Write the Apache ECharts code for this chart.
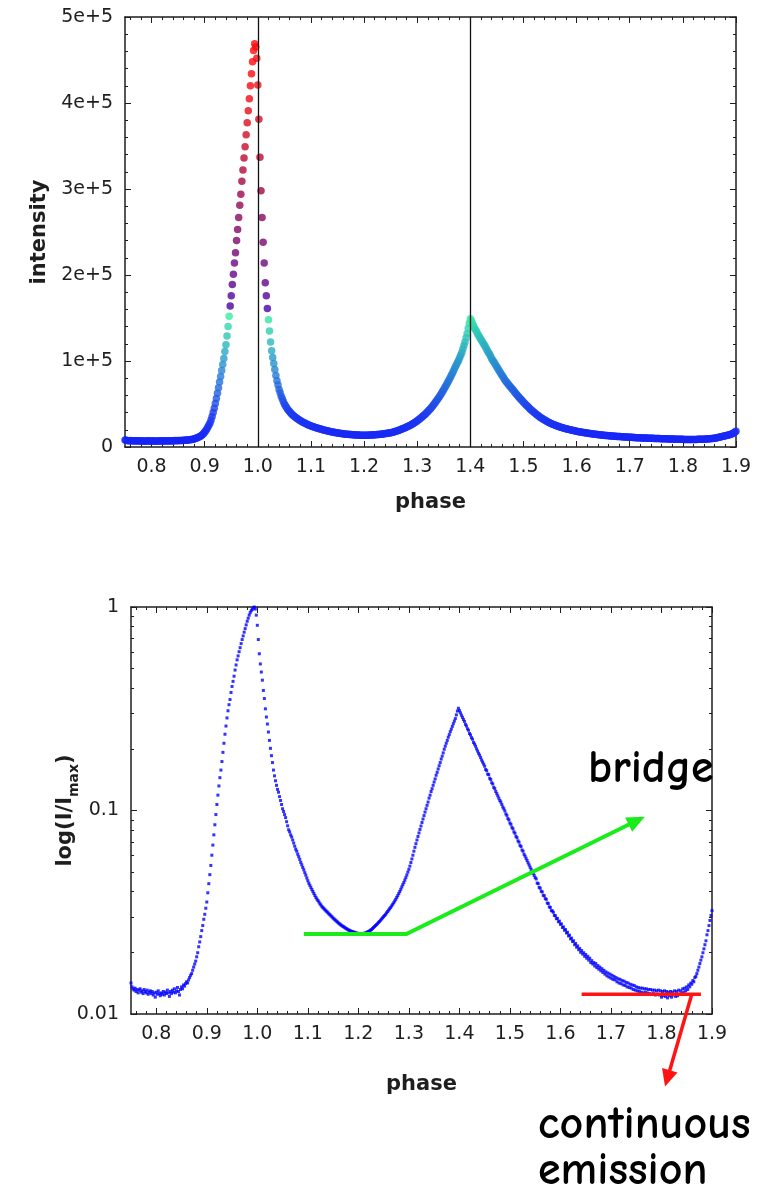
<!DOCTYPE html>
<html>
<head>
<meta charset="utf-8">
<script src="https://cdn.jsdelivr.net/npm/echarts@6/dist/echarts.min.js"></script>
<style>
  html, body { margin: 0; padding: 0; background: #fff; }
  #chart { width: 771px; height: 1191px; }
</style>
</head>
<body>
<div id="chart"></div>
<script>
// Pulse profile binned in phase: first bin at 0.750, bins 0.002 wide, last bin at 1.900.
const PHASE_START = 0.75;
const PHASE_STEP = 0.002;

// Counts per phase bin (linear panel).
const intensity = [
  8200, 7900, 7600, 7400, 7300, 7500, 7200, 7300, 7100, 7400,
  7200, 7000, 7300, 7100, 6900, 7200, 7000, 7100, 6800, 7000,
  7100, 6900, 7000, 7200, 6800, 7000, 6900, 7100, 7000, 6800,
  7000, 7100, 6900, 7000, 7200, 6900, 7100, 7000, 7300, 7100,
  7200, 7000, 7300, 7100, 7400, 7200, 7300, 7500, 7300, 7600,
  7400, 7600, 7500, 7700, 7600, 7800, 7900, 7800, 8100, 8000,
  8200, 8400, 8600, 8800, 9100, 9400, 9800, 10200, 10700, 11200,
  11800, 12500, 13400, 14500, 15800, 17300, 19000, 21000, 23200, 25500,
  28000, 31500, 35500, 40000, 45000, 50500, 56500, 62500, 69000, 75500,
  82000, 89000, 96000, 103000, 111000, 119000, 129000, 140000, 152000, 164000,
  176000, 189000, 201000, 214000, 226000, 240000, 253000, 267000, 281000, 294000,
  309000, 322000, 336000, 349000, 363000, 377000, 391000, 405000, 420000, 434000,
  448000, 461000, 469000, 465000, 452000, 421000, 381000, 337000, 298000, 267000,
  238000, 214000, 191000, 176000, 161000, 148000, 135000, 122000, 112000, 104000,
  97000, 90000, 83000, 77000, 72000, 67000, 63000, 59000, 56000, 53000,
  50000, 48000, 46000, 44000, 42500, 41000, 39500, 38000, 37000, 36000,
  35000, 34000, 33000, 32200, 31400, 30600, 29800, 29100, 28400, 27800,
  27200, 26600, 26000, 25500, 25000, 24500, 24000, 23600, 23200, 22800,
  22400, 22000, 21600, 21200, 20800, 20500, 20200, 19900, 19600, 19300,
  19000, 18700, 18400, 18100, 17800, 17500, 17300, 17000, 16800, 16600,
  16400, 16200, 16000, 15800, 15600, 15400, 15200, 15000, 14900, 14800,
  14700, 14600, 14500, 14400, 14300, 14200, 14100, 14000, 14000, 13900,
  13900, 13800, 13800, 13800, 13700, 13700, 13700, 13800, 13800, 13800,
  13900, 13900, 14000, 14000, 14100, 14200, 14300, 14400, 14500, 14600,
  14800, 14900, 15000, 15200, 15400, 15600, 15800, 16000, 16200, 16400,
  16600, 16900, 17200, 17500, 17900, 18300, 18700, 19100, 19600, 20100,
  20600, 21100, 21600, 22100, 22600, 23200, 23800, 24400, 25000, 25700,
  26400, 27100, 27900, 28700, 29500, 30400, 31300, 32300, 33300, 34300,
  35400, 36500, 37600, 38800, 40000, 41300, 42600, 44000, 45400, 46900,
  48500, 50100, 51700, 53400, 55100, 56900, 58800, 60800, 62800, 64900,
  67000, 69100, 71300, 73500, 75800, 78100, 80500, 83000, 85500, 88200,
  91000, 93500, 96000, 98500, 101000, 104000, 107000, 110000, 114000, 118000,
  122000, 127000, 132000, 138000, 144000, 149000, 147000, 144000, 141000, 138000,
  136000, 134000, 131000, 129000, 127000, 125000, 123000, 121000, 119000, 117000,
  114500, 112000, 110000, 108000, 105500, 103000, 101000, 99000, 97000, 95000,
  93000, 91000, 89000, 87000, 85000, 83000, 81000, 79000, 77000, 75500,
  74000, 72500, 71000, 69500, 68000, 66500, 65000, 63500, 62000, 60500,
  59000, 57600, 56200, 54800, 53400, 52100, 50800, 49500, 48200, 47000,
  45800, 44600, 43400, 42300, 41200, 40100, 39100, 38100, 37100, 36200,
  35300, 34400, 33600, 32800, 32000, 31300, 30600, 29900, 29200, 28600,
  28000, 27400, 26800, 26300, 25800, 25300, 24800, 24300, 23900, 23500,
  23100, 22700, 22300, 21900, 21500, 21200, 20900, 20600, 20300, 20000,
  19700, 19400, 19100, 18800, 18500, 18300, 18000, 17800, 17600, 17400,
  17200, 17000, 16800, 16600, 16400, 16200, 16000, 15800, 15600, 15400,
  15200, 15000, 14900, 14700, 14600, 14400, 14300, 14100, 14000, 13900,
  13700, 13600, 13500, 13400, 13300, 13200, 13000, 12900, 12800, 12700,
  12600, 12500, 12400, 12300, 12200, 12200, 12100, 12000, 11900, 11800,
  11700, 11600, 11600, 11500, 11400, 11300, 11300, 11200, 11100, 11100,
  11000, 10900, 10900, 10800, 10800, 10700, 10600, 10600, 10500, 10500,
  10400, 10400, 10300, 10300, 10200, 10200, 10100, 10100, 10000, 10000,
  9900, 9900, 9800, 9800, 9700, 9700, 9600, 9600, 9500, 9500,
  9500, 9400, 9400, 9300, 9300, 9200, 9200, 9200, 9100, 9100,
  9000, 9000, 9000, 8900, 8900, 8900, 8800, 8800, 8800, 8800,
  8800, 8700, 8700, 8700, 8700, 8800, 8800, 8800, 8800, 8900,
  8900, 8900, 9000, 9000, 9100, 9100, 9200, 9300, 9400, 9500,
  9600, 9700, 9800, 9900, 10100, 10300, 10500, 10700, 11000, 11300,
  11600, 11900, 12200, 12500, 12800, 13100, 13400, 13700, 14000, 14300,
  14700, 15200, 15800, 16500, 17300, 18200
];

// I / I_max per phase bin (logarithmic panel).
const relIntensity = [
  0.0142, 0.0136, 0.0133, 0.0131, 0.0134, 0.0129, 0.0132, 0.0127, 0.0131, 0.0133,
  0.0128, 0.0130, 0.0126, 0.0132, 0.0129, 0.0127, 0.0131, 0.0125, 0.0128, 0.0130,
  0.0126, 0.0129, 0.0124, 0.0127, 0.0121, 0.0128, 0.0125, 0.0130, 0.0126, 0.0123,
  0.0127, 0.0125, 0.0129, 0.0124, 0.0128, 0.0126, 0.0131, 0.0127, 0.0122, 0.0129,
  0.0126, 0.0131, 0.0128, 0.0133, 0.0127, 0.0130, 0.0135, 0.0129, 0.0124, 0.0132,
  0.0136, 0.0133, 0.0139, 0.0137, 0.0141, 0.0144, 0.0142, 0.0147, 0.0151, 0.0155,
  0.0158, 0.0164, 0.0170, 0.0176, 0.0182, 0.0191, 0.0200, 0.0214, 0.0226, 0.0240,
  0.0257, 0.0272, 0.0292, 0.0309, 0.0331, 0.0355, 0.0394, 0.0437, 0.0484, 0.0537,
  0.0603, 0.0676, 0.0759, 0.0851, 0.0955, 0.107, 0.119, 0.132, 0.145, 0.158,
  0.174, 0.193, 0.214, 0.237, 0.260, 0.285, 0.309, 0.331, 0.351, 0.380,
  0.407, 0.431, 0.457, 0.490, 0.519, 0.550, 0.575, 0.603, 0.631, 0.661,
  0.692, 0.721, 0.752, 0.783, 0.817, 0.851, 0.881, 0.912, 0.938, 0.959,
  0.973, 0.990, 1.000, 0.977, 0.912, 0.813, 0.692, 0.589, 0.525, 0.479,
  0.437, 0.389, 0.355, 0.316, 0.288, 0.266, 0.243, 0.221, 0.202, 0.186,
  0.172, 0.158, 0.148, 0.140, 0.133, 0.127, 0.123, 0.117, 0.112, 0.107,
  0.102, 0.0989, 0.0955, 0.0923, 0.0881, 0.0841, 0.0804, 0.0785, 0.0759, 0.0741,
  0.0716, 0.0692, 0.0668, 0.0646, 0.0631, 0.0610, 0.0593, 0.0575, 0.0556, 0.0541,
  0.0525, 0.0511, 0.0495, 0.0481, 0.0466, 0.0452, 0.0439, 0.0429, 0.0419, 0.0409,
  0.0400, 0.0391, 0.0382, 0.0374, 0.0367, 0.0361, 0.0355, 0.0348, 0.0343, 0.0337,
  0.0333, 0.0329, 0.0325, 0.0321, 0.0318, 0.0314, 0.0310, 0.0307, 0.0303, 0.0300,
  0.0296, 0.0293, 0.0290, 0.0287, 0.0284, 0.0281, 0.0278, 0.0276, 0.0273, 0.0271,
  0.0269, 0.0267, 0.0265, 0.0263, 0.0261, 0.0259, 0.0258, 0.0256, 0.0255, 0.0254,
  0.0253, 0.0252, 0.0251, 0.0250, 0.0249, 0.0249, 0.0248, 0.0248, 0.0248, 0.0248,
  0.0249, 0.0249, 0.0250, 0.0251, 0.0253, 0.0254, 0.0256, 0.0258, 0.0260, 0.0263,
  0.0266, 0.0269, 0.0272, 0.0275, 0.0278, 0.0282, 0.0285, 0.0289, 0.0293, 0.0297,
  0.0301, 0.0305, 0.0309, 0.0314, 0.0319, 0.0324, 0.0329, 0.0334, 0.0340, 0.0346,
  0.0352, 0.0359, 0.0366, 0.0374, 0.0382, 0.0391, 0.0400, 0.0410, 0.0421, 0.0432,
  0.0443, 0.0455, 0.0468, 0.0482, 0.0498, 0.0514, 0.0533, 0.0555, 0.0578, 0.0603,
  0.0631, 0.0659, 0.0687, 0.0716, 0.0745, 0.0776, 0.0807, 0.0839, 0.0873, 0.0908,
  0.0944, 0.0982, 0.102, 0.106, 0.110, 0.115, 0.119, 0.124, 0.128, 0.133,
  0.138, 0.143, 0.149, 0.154, 0.160, 0.166, 0.172, 0.179, 0.185, 0.192,
  0.200, 0.207, 0.214, 0.221, 0.229, 0.236, 0.244, 0.251, 0.259, 0.267,
  0.275, 0.283, 0.295, 0.308, 0.318, 0.310, 0.302, 0.294, 0.287, 0.280,
  0.274, 0.265, 0.260, 0.252, 0.248, 0.239, 0.235, 0.228, 0.224, 0.216,
  0.212, 0.207, 0.201, 0.196, 0.191, 0.187, 0.182, 0.177, 0.173, 0.169,
  0.165, 0.159, 0.157, 0.151, 0.150, 0.144, 0.142, 0.137, 0.135, 0.130,
  0.128, 0.124, 0.121, 0.118, 0.115, 0.112, 0.110, 0.107, 0.104, 0.102,
  0.0995, 0.0962, 0.0946, 0.0913, 0.0899, 0.0868, 0.0855, 0.0826, 0.0813, 0.0785,
  0.0773, 0.0746, 0.0735, 0.0709, 0.0699, 0.0674, 0.0665, 0.0640, 0.0631, 0.0609,
  0.0597, 0.0582, 0.0568, 0.0553, 0.0540, 0.0526, 0.0514, 0.0502, 0.0491, 0.0480,
  0.0468, 0.0461, 0.0440, 0.0437, 0.0419, 0.0415, 0.0401, 0.0398, 0.0383, 0.0381,
  0.0369, 0.0366, 0.0351, 0.0349, 0.0336, 0.0334, 0.0322, 0.0321, 0.0316, 0.0305,
  0.0304, 0.0294, 0.0295, 0.0284, 0.0286, 0.0276, 0.0277, 0.0266, 0.0268, 0.0258,
  0.0260, 0.0250, 0.0252, 0.0242, 0.0244, 0.0234, 0.0236, 0.0227, 0.0229, 0.0219,
  0.0222, 0.0213, 0.0216, 0.0207, 0.0210, 0.0201, 0.0205, 0.0197, 0.0200, 0.0192,
  0.0196, 0.0188, 0.0192, 0.0184, 0.0188, 0.0179, 0.0183, 0.0176, 0.0179, 0.0172,
  0.0177, 0.0169, 0.0173, 0.0166, 0.0170, 0.0163, 0.0167, 0.0160, 0.0164, 0.0157,
  0.0161, 0.0154, 0.0159, 0.0152, 0.0157, 0.0150, 0.0155, 0.0148, 0.0153, 0.0147,
  0.0151, 0.0144, 0.0149, 0.0142, 0.0148, 0.0141, 0.0146, 0.0139, 0.0145, 0.0138,
  0.0143, 0.0136, 0.0142, 0.0135, 0.0140, 0.0134, 0.0139, 0.0132, 0.0138, 0.0131,
  0.0136, 0.0130, 0.0135, 0.0129, 0.0134, 0.0128, 0.0134, 0.0127, 0.0133, 0.0128,
  0.0133, 0.0127, 0.0132, 0.0126, 0.0132, 0.0125, 0.0131, 0.0126, 0.0131, 0.0124,
  0.0130, 0.0125, 0.0131, 0.0124, 0.0130, 0.0121, 0.0129, 0.0123, 0.0130, 0.0122,
  0.0129, 0.0120, 0.0128, 0.0123, 0.0129, 0.0121, 0.0128, 0.0124, 0.0130, 0.0122,
  0.0129, 0.0123, 0.0131, 0.0125, 0.0130, 0.0126, 0.0133, 0.0128, 0.0134, 0.0130,
  0.0136, 0.0132, 0.0139, 0.0136, 0.0142, 0.0140, 0.0146, 0.0144, 0.0151, 0.0153,
  0.0158, 0.0164, 0.0170, 0.0177, 0.0184, 0.0191, 0.0200, 0.0209, 0.0219, 0.0229,
  0.0245, 0.0257, 0.0272, 0.0288, 0.0305, 0.0322
];

// Axis ticks and their labels.
const phaseTicks = [0.8, 0.9, 1.0, 1.1, 1.2, 1.3, 1.4, 1.5, 1.6, 1.7, 1.8, 1.9];
const phaseTickLabels = ['0.8', '0.9', '1.0', '1.1', '1.2', '1.3', '1.4', '1.5', '1.6', '1.7', '1.8', '1.9'];
const intensityTicks = [0, 100000, 200000, 300000, 400000, 500000];
const intensityTickLabels = ['0', '1e+5', '2e+5', '3e+5', '4e+5', '5e+5'];
const relTicks = [0.01, 0.1, 1];
const relTickLabels = ['0.01', '0.1', '1'];

// Phases of the two pulse peaks, marked on the linear panel.
const peakPhases = [1.0, 1.4];

// Annotation paths in (phase, I/I_max) of the logarithmic panel.
const bridgePath = [[1.092, 0.0247], [1.295, 0.0247], [1.767, 0.0932]];
const continuumLevel = [[1.642, 0.0125], [1.878, 0.0125]];
const continuumPointer = [[1.860, 0.0125], [1.807, 0.0044]];

// ---------------------------------------------------------------------------

const INK = '#1e1e1e';
const FONT = 'DejaVu Sans';
const phase = intensity.map((_, i) => +(PHASE_START + i * PHASE_STEP).toFixed(3));

function steps(from, to, step) {
  const out = [];
  for (let k = 0; from + k * step <= to + 1e-9; k++) out.push(+(from + k * step).toFixed(6));
  return out;
}
const phaseMinor = steps(0.76, 1.9, 0.02);
const intensityMinor = steps(0, 500000, 20000);
const relMinor = [];
[0.01, 0.1].forEach(d => { for (let m = 2; m <= 9; m++) relMinor.push(+(m * d).toFixed(4)); });

function labelFor(ticks, labels) {
  return v => {
    const i = ticks.findIndex(t => Math.abs(t - v) <= Math.abs(t) * 1e-6 + 1e-12);
    return i >= 0 ? labels[i] : '';
  };
}

// Colour of the linear-panel dots follows the counts: blue to mint up to
// ~1.55e5, then indigo through purple to red at the main peak.
const lowStops = [
  [0, [22, 30, 250]], [40000, [30, 62, 238]], [80000, [38, 118, 216]],
  [110000, [42, 166, 196]], [135000, [46, 206, 180]], [155000, [58, 240, 160]]
];
const highStops = [
  [155000, [70, 2, 170]], [190000, [95, 5, 142]], [230000, [118, 8, 116]],
  [270000, [140, 8, 92]], [310000, [166, 8, 66]], [350000, [200, 10, 46]],
  [400000, [236, 12, 24]], [440000, [255, 10, 10]]
];
function interp(stops, v) {
  if (v <= stops[0][0]) return stops[0][1];
  for (let i = 1; i < stops.length; i++) {
    if (v <= stops[i][0]) {
      const [a, ca] = stops[i - 1], [b, cb] = stops[i];
      const t = (v - a) / (b - a);
      return ca.map((c, j) => Math.round(c + (cb[j] - c) * t));
    }
  }
  return stops[stops.length - 1][1];
}
function intensityColor(v) {
  const c = v <= 155000 ? interp(lowStops, v) : interp(highStops, v);
  return 'rgb(' + c.join(',') + ')';
}

function axis(o) {
  const a = {
    type: o.type || 'value',
    gridIndex: o.grid,
    position: o.position,
    min: o.min,
    max: o.max,
    axisLine: { show: !!o.line, onZero: false, lineStyle: { color: INK, width: 1.5 } },
    axisTick: {
      show: true, inside: true, length: o.tickLength, customValues: o.ticks,
      lineStyle: { color: INK, width: 1 }
    },
    axisLabel: { show: false },
    splitLine: { show: false },
    minorTick: { show: false },
    nameMoveOverlap: false,
    silent: true
  };
  if (o.type === 'log') a.logBase = 10;
  if (o.labels) {
    a.axisLabel = {
      show: true, customValues: o.ticks, formatter: o.labels, margin: o.labelMargin,
      fontFamily: FONT, fontSize: 19, color: INK
    };
  }
  if (o.name) {
    a.name = o.name;
    a.nameLocation = 'middle';
    a.nameGap = o.nameGap;
    a.nameTextStyle = o.nameStyle;
  }
  return a;
}

const nameStyle = { fontFamily: FONT, fontWeight: 'bold', fontSize: 21, color: INK };
const phaseX = { min: 0.75, max: 1.9 };
const linY = { min: 0, max: 500000 };
const logY = { type: 'log', min: 0.01, max: 1 };

const xAxes = [
  // linear panel
  axis({ ...phaseX, grid: 0, position: 'bottom', line: true, tickLength: 6, ticks: phaseTicks,
         labels: labelFor(phaseTicks, phaseTickLabels), labelMargin: 11,
         name: 'phase', nameGap: 45, nameStyle }),
  axis({ ...phaseX, grid: 0, position: 'bottom', tickLength: 3, ticks: phaseMinor }),
  axis({ ...phaseX, grid: 0, position: 'top', line: true, tickLength: 6, ticks: phaseTicks }),
  axis({ ...phaseX, grid: 0, position: 'top', tickLength: 3, ticks: phaseMinor }),
  // logarithmic panel
  axis({ ...phaseX, grid: 1, position: 'bottom', line: true, tickLength: 6, ticks: phaseTicks,
         labels: labelFor(phaseTicks, phaseTickLabels), labelMargin: 11,
         name: 'phase', nameGap: 60, nameStyle }),
  axis({ ...phaseX, grid: 1, position: 'bottom', tickLength: 3, ticks: phaseMinor }),
  axis({ ...phaseX, grid: 1, position: 'top', line: true, tickLength: 6, ticks: phaseTicks }),
  axis({ ...phaseX, grid: 1, position: 'top', tickLength: 3, ticks: phaseMinor })
];

const yAxes = [
  axis({ ...linY, grid: 0, position: 'left', line: true, tickLength: 6, ticks: intensityTicks,
         labels: labelFor(intensityTicks, intensityTickLabels), labelMargin: 12,
         name: 'intensity', nameGap: 75, nameStyle }),
  axis({ ...linY, grid: 0, position: 'left', tickLength: 3, ticks: intensityMinor }),
  axis({ ...linY, grid: 0, position: 'right', line: true, tickLength: 6, ticks: intensityTicks }),
  axis({ ...linY, grid: 0, position: 'right', tickLength: 3, ticks: intensityMinor }),
  axis({ ...logY, grid: 1, position: 'left', line: true, tickLength: 6, ticks: relTicks,
         labels: labelFor(relTicks, relTickLabels), labelMargin: 12,
         name: '{t|log(I/I}{s|max}{t|)}', nameGap: 50,
         nameStyle: {
           rich: {
             t: { fontFamily: FONT, fontWeight: 'bold', fontSize: 21, color: INK, lineHeight: 30 },
             s: { fontFamily: FONT, fontWeight: 'bold', fontSize: 14, color: INK, lineHeight: 14, verticalAlign: 'bottom' }
           }
         } }),
  axis({ ...logY, grid: 1, position: 'left', tickLength: 3, ticks: relMinor }),
  axis({ ...logY, grid: 1, position: 'right', line: true, tickLength: 6, ticks: relTicks }),
  axis({ ...logY, grid: 1, position: 'right', tickLength: 3, ticks: relMinor })
];

const chart = echarts.init(document.getElementById('chart'), null, { renderer: 'canvas' });

chart.setOption({
  animation: false,
  backgroundColor: '#ffffff',
  grid: [
    { left: 125, top: 17, width: 611, height: 430, outerBoundsMode: 'none', containLabel: false },
    { left: 131, top: 607, width: 581, height: 407, outerBoundsMode: 'none', containLabel: false }
  ],
  xAxis: xAxes,
  yAxis: yAxes,
  series: [
    {
      type: 'scatter',
      xAxisIndex: 0,
      yAxisIndex: 0,
      data: phase.map((p, i) => [p, intensity[i]]),
      symbol: 'circle',
      symbolSize: 7.5,
      itemStyle: { color: p => intensityColor(p.value[1]) },
      emphasis: { disabled: true },
      markLine: {
        silent: true,
        symbol: 'none',
        label: { show: false },
        lineStyle: { color: '#111', width: 1.3, type: 'solid' },
        emphasis: { disabled: true },
        data: peakPhases.map(x => ({ xAxis: x }))
      }
    },
    {
      type: 'scatter',
      xAxisIndex: 4,
      yAxisIndex: 4,
      data: phase.map((p, i) => [p, relIntensity[i]]),
      symbol: 'rect',
      symbolSize: 3,
      itemStyle: { color: '#0000ff' },
      emphasis: { disabled: true }
    }
  ]
});

// Annotations on the logarithmic panel: placed through the panel's own axes.
const toPx = pt => chart.convertToPixel({ seriesIndex: 1 }, pt);

function arrowHead(from, to, len, half) {
  const dx = to[0] - from[0], dy = to[1] - from[1];
  const d = Math.hypot(dx, dy), ux = dx / d, uy = dy / d;
  const bx = to[0] - ux * len, by = to[1] - uy * len;
  return {
    head: [[to[0], to[1]], [bx - uy * half, by + ux * half], [bx + uy * half, by - ux * half]],
    base: [to[0] - ux * (len - 2), to[1] - uy * (len - 2)]
  };
}

const GREEN = '#1aec1a';
const RED = '#ff1414';

const bridgePx = bridgePath.map(toPx);
const bridgeHead = arrowHead(bridgePx[1], bridgePx[2], 18, 8);
const levelPx = continuumLevel.map(toPx);
const pointerPx = continuumPointer.map(toPx);
const pointerHead = arrowHead(pointerPx[0], pointerPx[1], 17, 8);

const noteFont = 'bold 46px "Comic Sans MS", "Comic Neue", "DejaVu Sans", sans-serif';

chart.setOption({
  graphic: [
    { type: 'polyline', silent: true, z: 50,
      shape: { points: [bridgePx[0], bridgePx[1], bridgeHead.base] },
      style: { stroke: GREEN, lineWidth: 4, fill: 'none', lineJoin: 'miter' } },
    { type: 'polygon', silent: true, z: 50, shape: { points: bridgeHead.head }, style: { fill: GREEN } },
    { type: 'polyline', silent: true, z: 50,
      shape: { points: levelPx },
      style: { stroke: RED, lineWidth: 3.5, fill: 'none' } },
    { type: 'polyline', silent: true, z: 50,
      shape: { points: [pointerPx[0], pointerHead.base] },
      style: { stroke: RED, lineWidth: 3.5, fill: 'none' } },
    { type: 'polygon', silent: true, z: 50, shape: { points: pointerHead.head }, style: { fill: RED } },
    { type: 'text', silent: true, z: 50, x: 588, y: 769,
      style: { text: 'bridge', font: noteFont, fill: '#000', align: 'left', verticalAlign: 'middle' } },
    { type: 'text', silent: true, z: 50, x: 538, y: 1125,
      style: { text: 'continuous', font: noteFont, fill: '#000', align: 'left', verticalAlign: 'middle' } },
    { type: 'text', silent: true, z: 50, x: 538, y: 1171,
      style: { text: 'emission', font: noteFont, fill: '#000', align: 'left', verticalAlign: 'middle' } }
  ]
});
</script>
</body>
</html>
